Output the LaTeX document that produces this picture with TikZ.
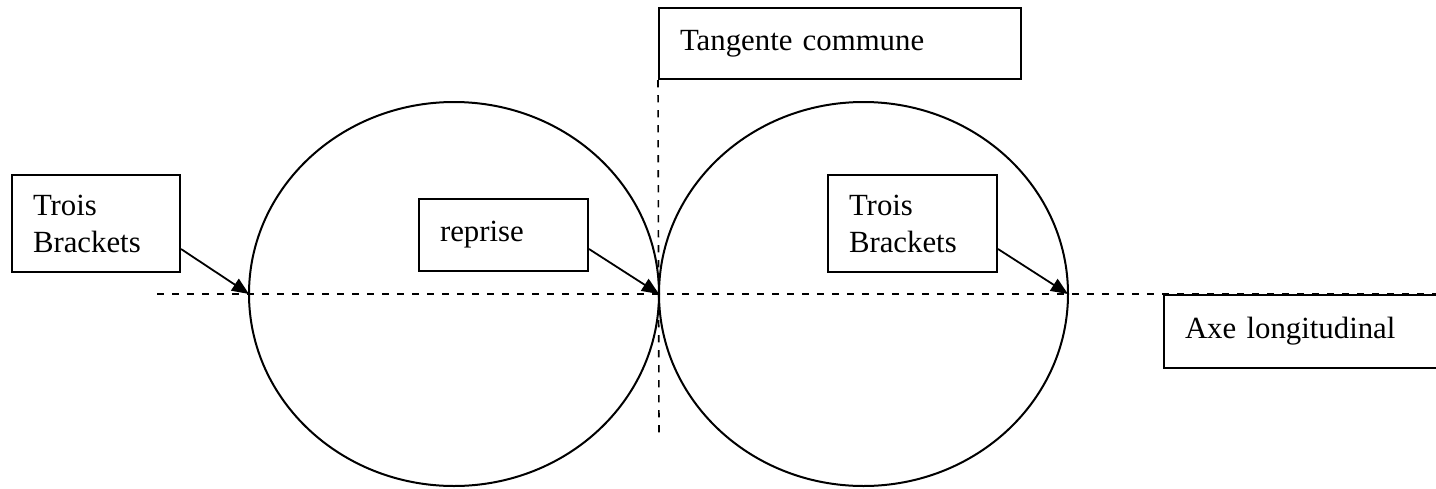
\documentclass[tikz,border=0pt]{standalone}
\usepackage{fontspec}
\setmainfont{Liberation Serif}
\usetikzlibrary{arrows.meta}

\begin{document}
\begin{tikzpicture}[x=0.5pt,y=-0.5pt,
  font=\fontsize{15.4}{18.5}\selectfont,
  box/.style={draw,line width=1pt,anchor=north west,align=left,inner xsep=10.5pt,inner ysep=0pt},
  axis/.style={dash pattern=on 3.7pt off 3.8pt,line width=0.8pt},
  arr/.style={-{Triangle[length=8.5pt,width=7pt]},line width=0.9pt}]
\useasboundingbox (0,0) rectangle (1436,488);
% les deux roues
\draw[line width=1pt] (454,294) ellipse [x radius=205, y radius=192];
\draw[line width=1pt] (863.5,294) ellipse [x radius=204.5, y radius=192];
\coordinate (pl) at (249,294);
\coordinate (pm) at (659,294);
\coordinate (pr) at (1068,294);
% axes
\coordinate (al) at (157,294);
\coordinate (ar) at (1436,294);
\coordinate (tbot) at (659,433);
\draw[axis] (al) -- (ar);
% legendes
\node[box,text width=63pt,minimum height=48.5pt] (tb1) at (11,174) {Trois\\Brackets};
\node[box,text width=63.5pt,minimum height=36pt] (rep) at (418,198) {reprise};
\node[box,text width=160pt,minimum height=35.5pt] (tan) at (658,7) {Tangente commune};
\node[box,text width=63.5pt,minimum height=48.5pt] (tb2) at (827,174) {Trois\\Brackets};
\node[box,text width=150pt,minimum height=36.5pt] (axe) at (1163,294) {Axe longitudinal};
\draw[axis] (tan.south west) -- (tbot);
\draw[arr] ([yshift=12pt]tb1.south east) -- (pl);
\draw[arr] ([yshift=11.5pt]rep.south east) -- (pm);
\draw[arr] ([yshift=12pt]tb2.south east) -- (pr);
\end{tikzpicture}
\end{document}
